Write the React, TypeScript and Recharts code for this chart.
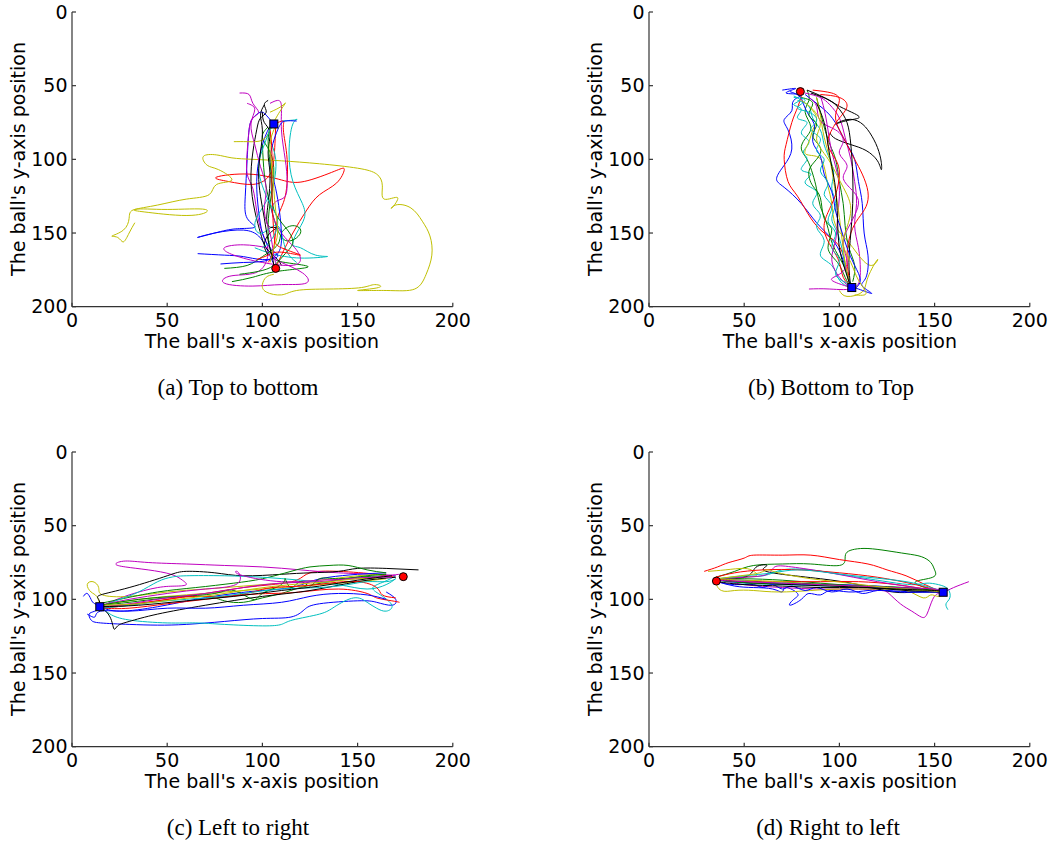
import React from 'react';
import { LineChart, Line, XAxis, YAxis } from 'recharts';

type Pt = [number, number];

const TICKS = [0, 50, 100, 150, 200];
// matplotlib classic colour cycle: b, g, r, c, m, y, k
const COLORS = ['#0000ff', '#008000', '#ff0000', '#00bfbf', '#bf00bf', '#bfbf00', '#000000'];

// (a) Top to bottom
const aBlue1: Pt[] = [[106, 76], [102, 70], [99, 68], [95, 72], [93, 80], [92, 100], [91, 125], [92, 140], [96, 146], [88, 147], [78, 149], [66, 153], [75, 150], [90, 148], [98, 152], [102, 160], [107, 174]];
const aGreen1: Pt[] = [[84, 183], [95, 180], [108, 176], [124, 173], [112, 170], [105, 165], [103, 150], [104, 130], [106, 110], [104, 95], [100, 85], [103, 78]];
const aRed1: Pt[] = [[107, 174], [110, 165], [116, 150], [123, 135], [130, 124], [139, 116], [143, 107], [138, 108], [122, 115], [110, 114], [93, 110], [76, 112], [82, 115], [95, 117], [103, 112], [106, 100], [107, 76]];
const aCyan1: Pt[] = [[110, 74], [118, 73], [116, 76], [114, 95], [116, 115], [121, 130], [122, 140], [118, 150], [116, 158], [120, 160], [128, 165], [134, 166], [120, 167], [105, 164], [96, 160]];
const aMagenta1: Pt[] = [[88, 55], [93, 56], [95, 62], [98, 68], [95, 72], [93, 80], [92, 95], [92, 110], [95, 120], [97, 135], [100, 150], [103, 162], [98, 176], [84, 179], [80, 184], [95, 186], [110, 185], [123, 184], [121, 177], [110, 170], [104, 166]];
const aYellow1: Pt[] = [[106, 178], [102, 180], [100, 185], [102, 190], [110, 192], [118, 189], [135, 188], [152, 187], [159, 185], [161, 187], [150, 189], [165, 189], [180, 188], [186, 178], [189, 165], [188, 152], [184, 142], [178, 133], [170, 131], [168, 133], [171, 126], [164, 127], [163, 118], [160, 110], [150, 106], [130, 103], [110, 101], [95, 100], [84, 99], [76, 97], [69, 98], [71, 104], [77, 107], [84, 114], [76, 117], [72, 124], [60, 127], [45, 131], [33, 134], [40, 136], [63, 138], [70, 134], [50, 134], [33, 134], [30, 140], [27, 148], [21, 152], [24, 153], [27, 156], [30, 150], [33, 143]];
const aBlack1: Pt[] = [[103, 60], [101, 63], [102, 68], [99, 72], [97, 80], [95, 95], [94, 115], [96, 135], [99, 150], [101, 158], [104, 163], [108, 168], [110, 172]];
const aBlue2: Pt[] = [[66, 164], [80, 165], [90, 166], [100, 168], [108, 166], [104, 160], [100, 150], [98, 135], [97, 115], [99, 95], [103, 80], [106, 76]];
const aGreen2: Pt[] = [[80, 174], [92, 172], [100, 166], [108, 158], [110, 150], [116, 145], [120, 150], [112, 155], [106, 140], [103, 125], [101, 110], [100, 90]];
const aRed2: Pt[] = [[103, 170], [106, 160], [108, 140], [112, 125], [113, 100], [111, 80], [111, 74], [106, 76]];
const aCyan2: Pt[] = [[103, 85], [107, 100], [105, 120], [99, 135], [96, 145], [100, 150], [108, 145], [112, 160], [118, 170]];
const aMagenta2: Pt[] = [[104, 62], [108, 60], [110, 64], [110, 80], [112, 100], [113, 115], [112, 125], [108, 128], [105, 135], [110, 150], [117, 160], [120, 168], [115, 172], [100, 170], [85, 165], [80, 160], [90, 158], [103, 160]];
const aYellow2: Pt[] = [[85, 88], [92, 88], [100, 87], [104, 80], [108, 70], [112, 62], [110, 64], [104, 68]];
const aBlack2: Pt[] = [[100, 68], [101, 75], [104, 82], [103, 95], [104, 110], [103, 130], [103, 145], [108, 146], [104, 150], [101, 158], [103, 165]];
const aBlue3: Pt[] = [[78, 171], [90, 170], [101, 169], [108, 164], [110, 150], [107, 120], [104, 100], [108, 80], [112, 74], [118, 74]];
const aGreen3: Pt[] = [[88, 178], [98, 176], [106, 172], [112, 164], [116, 156], [112, 146], [106, 134], [105, 118], [104, 102], [103, 88], [104, 78]];
const aRed3: Pt[] = [[97, 168], [103, 165], [110, 163], [120, 165], [110, 160], [106, 150], [105, 120], [105, 95], [104, 80]];
const aCyan3: Pt[] = [[100, 160], [105, 154], [108, 142], [104, 130], [100, 118], [98, 104], [101, 90], [104, 80], [107, 76]];
const aMagenta3: Pt[] = [[92, 62], [96, 66], [94, 76], [96, 90], [99, 105], [102, 120], [101, 135], [104, 150], [106, 165], [108, 174]];
const aYellow3: Pt[] = [[104, 170], [106, 160], [108, 150], [107, 135], [106, 120], [105, 105], [104, 90], [106, 80], [107, 76]];
const aBlack3: Pt[] = [[101, 63], [99, 70], [100, 80], [99, 95], [98, 110], [99, 125], [101, 140], [103, 155], [105, 165], [106, 172]];
const tracksA = [aBlue1, aGreen1, aRed1, aCyan1, aMagenta1, aYellow1, aBlack1, aBlue2, aGreen2, aRed2, aCyan2, aMagenta2, aYellow2, aBlack2,
    aBlue3, aGreen3, aRed3, aCyan3, aMagenta3, aYellow3, aBlack3];
const startA: Pt = [107, 174];
const endA: Pt = [106, 76];

// (b) Bottom to Top
const bBlue1: Pt[] = [[70, 53], [77, 52], [72, 55], [80, 56], [76, 60], [75, 67], [71, 73], [73, 80], [75, 93], [71, 104], [67, 113], [71, 119], [80, 130], [88, 143], [96, 154], [101, 165], [104, 177], [106, 187]];
const bGreen1: Pt[] = [[83, 53], [84, 60], [82, 68], [85, 78], [82, 86], [80, 93], [83, 100], [86, 110], [88, 120], [90, 132], [93, 142], [95, 152], [98, 162], [103, 174], [106, 186]];
const bRed1: Pt[] = [[80, 57], [78, 65], [75, 75], [72, 90], [71, 100], [73, 115], [78, 125], [85, 140], [92, 150], [98, 156], [102, 165], [104, 178], [106, 187]];
const bCyan1: Pt[] = [[76, 57], [79, 60], [76, 63], [80, 66], [78, 72], [83, 75], [80, 82], [84, 88], [81, 95], [83, 100], [80, 107], [85, 110], [82, 116], [88, 122], [86, 130], [90, 138], [88, 146], [92, 155], [90, 165], [96, 172], [100, 182], [106, 187]];
const bMagenta1: Pt[] = [[82, 55], [90, 58], [95, 63], [100, 72], [103, 85], [106, 100], [108, 115], [109, 130], [108, 145], [110, 160], [111, 175], [108, 187], [95, 188], [84, 188]];
const bYellow1: Pt[] = [[84, 64], [88, 72], [86, 80], [84, 88], [82, 96], [88, 98], [92, 105], [94, 118], [96, 130], [98, 145], [104, 155], [110, 165], [117, 172], [120, 168], [115, 180], [112, 190], [104, 193], [100, 189]];
const bBlack1: Pt[] = [[83, 53], [92, 58], [100, 64], [108, 69], [110, 72], [103, 74], [98, 76], [104, 73], [111, 75], [116, 82], [120, 92], [122, 102], [122, 107], [120, 101], [114, 94], [106, 90], [98, 86], [95, 82]];
const bBlue2: Pt[] = [[82, 56], [88, 62], [95, 70], [100, 80], [104, 90], [108, 100], [110, 115], [112, 130], [113, 150], [115, 165], [114, 180], [112, 186], [117, 191], [110, 188], [106, 187]];
const bGreen2: Pt[] = [[88, 58], [90, 68], [92, 78], [95, 90], [98, 100], [100, 115], [102, 130], [103, 145], [105, 160], [108, 172], [107, 183]];
const bRed2: Pt[] = [[86, 53], [96, 55], [100, 60], [98, 70], [100, 80], [104, 90], [108, 100], [112, 110], [115, 122], [114, 132], [110, 140], [106, 150], [104, 165], [105, 180]];
const bCyan2: Pt[] = [[78, 60], [84, 64], [86, 72], [90, 80], [92, 90], [95, 100], [97, 110], [96, 120], [98, 130], [96, 140], [99, 150], [102, 165], [104, 178], [108, 189]];
const bMagenta2: Pt[] = [[90, 57], [92, 66], [94, 80], [96, 95], [99, 110], [100, 125], [99, 140], [98, 155], [96, 168], [100, 180], [106, 187]];
const bYellow2: Pt[] = [[88, 58], [90, 70], [92, 85], [95, 100], [97, 115], [99, 130], [101, 150], [103, 170], [105, 182]];
const bBlack2: Pt[] = [[85, 55], [95, 60], [100, 66], [104, 75], [106, 90], [107, 110], [107, 130], [106, 150], [105, 170], [106, 187]];
const bBlue3: Pt[] = [[74, 54], [79, 57], [81, 62], [84, 70], [87, 78], [86, 88], [90, 98], [92, 110], [96, 122], [98, 135], [101, 148], [104, 160], [108, 172], [111, 182], [108, 188]];
const bGreen3: Pt[] = [[80, 58], [86, 62], [84, 70], [88, 76], [86, 84], [90, 92], [88, 100], [84, 108], [86, 118], [90, 126], [92, 140], [96, 148], [94, 160], [99, 170], [103, 180], [106, 187]];
const bRed3: Pt[] = [[90, 56], [100, 58], [104, 64], [100, 72], [96, 80], [94, 90], [98, 100], [100, 110], [98, 124], [94, 136], [92, 148], [96, 160], [100, 170], [102, 180], [106, 186]];
const bCyan3: Pt[] = [[76, 58], [82, 60], [78, 65], [84, 68], [88, 74], [85, 80], [90, 86], [88, 94], [92, 100], [90, 108], [94, 116], [92, 124], [96, 132], [94, 142], [98, 150], [96, 160], [100, 168], [98, 178], [104, 184], [108, 188]];
const bMagenta3: Pt[] = [[84, 58], [88, 64], [90, 74], [98, 80], [102, 88], [100, 96], [104, 104], [102, 112], [106, 120], [110, 128], [108, 138], [104, 148], [102, 158], [104, 170], [100, 178], [96, 182], [106, 187]];
const bYellow3: Pt[] = [[80, 60], [86, 66], [90, 76], [88, 86], [92, 96], [96, 104], [100, 114], [104, 124], [106, 134], [104, 146], [102, 158], [106, 170], [110, 182], [114, 191], [108, 192]];
const bBlack3: Pt[] = [[88, 62], [92, 75], [94, 90], [96, 105], [98, 120], [99, 140], [100, 160], [103, 175], [106, 187]];
const tracksB = [bBlue1, bGreen1, bRed1, bCyan1, bMagenta1, bYellow1, bBlack1, bBlue2, bGreen2, bRed2, bCyan2, bMagenta2, bYellow2, bBlack2,
    bBlue3, bGreen3, bRed3, bCyan3, bMagenta3, bYellow3, bBlack3];
const startB: Pt = [79.5, 54];
const endB: Pt = [106.5, 187];

// (c) Left to right
const cBlue1: Pt[] = [[6, 98], [8, 96], [10, 100], [12, 103], [15, 105], [12, 108], [9, 110], [10, 114], [15, 116], [30, 117], [45, 117.5], [60, 117], [80, 115], [100, 113], [115, 112], [122, 107], [130, 103], [150, 101], [160, 102], [168, 104], [170, 100], [165, 95]];
const cGreen1: Pt[] = [[15, 104], [30, 102], [50, 99], [70, 98], [80, 101], [90, 102], [100, 99], [110, 96], [120, 92], [135, 88], [150, 85], [165, 84]];
const cRed1: Pt[] = [[15, 105], [25, 104], [45, 101], [60, 98], [75, 95], [90, 92], [105, 90], [118, 87], [125, 82], [140, 81], [160, 83], [170, 85]];
const cCyan1: Pt[] = [[15, 105], [20, 110], [30, 114], [50, 116], [65, 116], [80, 117], [100, 118], [110, 117], [116, 114], [130, 110], [138, 105], [148, 99], [155, 102], [160, 106], [165, 108], [168, 104], [162, 97], [158, 92], [164, 88], [170, 84]];
const cMagenta1: Pt[] = [[170, 84], [160, 83], [140, 82], [120, 80], [100, 78], [80, 77], [60, 76], [40, 75], [28, 74], [23, 76], [28, 78], [40, 80], [52, 83], [58, 87], [60, 90], [55, 91], [45, 92], [30, 97], [20, 102], [15, 105]];
const cYellow1: Pt[] = [[15, 105], [13, 98], [10, 95], [8, 90], [11, 88], [14, 92], [16, 97], [30, 98], [50, 95], [70, 93], [90, 91], [110, 89], [130, 87], [150, 84], [165, 83]];
const cBlack1: Pt[] = [[15, 105], [14, 100], [15, 97], [30, 92], [50, 84], [60, 81], [75, 82], [90, 84], [110, 83], [125, 82], [140, 81], [150, 79], [165, 79], [182, 80]];
const cBlue2: Pt[] = [[15, 105], [25, 108], [45, 105], [65, 100], [85, 96], [100, 94], [115, 92], [125, 88], [135, 85], [150, 83], [165, 82]];
const cGreen2: Pt[] = [[14, 103], [25, 100], [45, 95], [65, 92], [85, 89], [100, 86], [115, 81], [125, 78], [135, 77], [145, 77], [155, 80], [165, 82]];
const cRed2: Pt[] = [[16, 106], [30, 106], [50, 103], [70, 100], [90, 97], [105, 96], [120, 95], [140, 93], [155, 96], [160, 99], [168, 101], [172, 102]];
const cCyan2: Pt[] = [[17, 104], [25, 100], [35, 95], [45, 88], [52, 85], [60, 84], [80, 84], [100, 85], [120, 87], [140, 90], [155, 93], [165, 90], [170, 86]];
const cMagenta2: Pt[] = [[15, 104], [30, 100], [50, 96], [70, 93], [86, 90], [88, 83], [86, 81], [90, 84], [110, 88], [130, 87], [150, 86], [165, 84], [172, 83]];
const cYellow2: Pt[] = [[16, 104], [30, 101], [50, 98], [70, 96], [90, 94], [110, 92], [130, 90], [150, 88], [165, 86]];
const cBlack2: Pt[] = [[15, 105], [20, 112], [22, 120], [24, 118], [30, 115], [45, 110], [70, 104], [100, 98], [125, 94], [150, 88], [170, 85]];
const cBlue3: Pt[] = [[8, 110], [12, 112], [15, 108], [30, 108], [50, 106], [70, 106], [90, 104], [110, 102], [125, 98], [140, 96], [155, 97], [165, 100]];
const cGreen3: Pt[] = [[15, 104], [35, 100], [55, 98], [75, 96], [85, 94], [95, 100], [100, 96], [110, 90], [112, 86], [115, 92], [120, 88], [125, 91], [130, 86], [140, 86], [155, 84], [165, 83]];
const cRed3: Pt[] = [[15, 106], [30, 104], [50, 100], [65, 98], [80, 98], [95, 95], [105, 92], [120, 91], [135, 89], [150, 88], [160, 92], [163, 97], [170, 99]];
const cCyan3: Pt[] = [[16, 106], [30, 104], [50, 101], [70, 99], [90, 96], [110, 93], [130, 92], [145, 90], [155, 88], [165, 88], [170, 86]];
const cMagenta3: Pt[] = [[15, 105], [30, 103], [50, 99], [70, 96], [90, 92], [110, 89], [130, 88], [145, 86], [158, 85], [168, 85]];
const cYellow3: Pt[] = [[15, 104], [35, 103], [55, 100], [75, 97], [95, 93], [115, 90], [135, 88], [150, 86], [160, 86]];
const cBlack3: Pt[] = [[15, 105], [35, 104], [60, 101], [85, 98], [110, 94], [130, 91], [150, 87], [168, 84]];
const tracksC = [cBlue1, cGreen1, cRed1, cCyan1, cMagenta1, cYellow1, cBlack1, cBlue2, cGreen2, cRed2, cCyan2, cMagenta2, cYellow2, cBlack2,
    cBlue3, cGreen3, cRed3, cCyan3, cMagenta3, cYellow3, cBlack3];
const startC: Pt = [174, 84.6];
const endC: Pt = [14.6, 105];

// (d) Right to left
const dBlue1: Pt[] = [[36, 88], [45, 91], [55, 92], [65, 93], [70, 95], [72, 92], [78, 96], [76, 100], [74, 104], [80, 100], [84, 96], [90, 97], [95, 94], [105, 95], [115, 94], [125, 94], [140, 95], [154, 95]];
const dGreen1: Pt[] = [[35, 85], [45, 81], [55, 77], [70, 76], [85, 76], [100, 77], [103, 72], [104, 68], [108, 66], [115, 65.5], [125, 67], [135, 69], [143, 71], [148, 75], [150, 80], [149, 85], [140, 88], [145, 92], [154, 95]];
const dRed1: Pt[] = [[29, 81], [36, 78], [42, 75], [50, 72], [55, 70], [70, 70], [85, 70], [100, 73], [115, 76], [125, 80], [135, 84], [145, 90], [154, 95]];
const dCyan1: Pt[] = [[36, 87], [45, 85], [60, 84], [70, 80], [85, 80], [100, 83], [115, 86], [130, 89], [140, 90], [146, 89], [152, 90], [157, 93], [158, 99], [156, 103], [157, 107]];
const dMagenta1: Pt[] = [[35, 86], [50, 90], [70, 92], [90, 93], [110, 93], [122, 94], [126, 96], [132, 103], [138, 108], [143, 112], [146, 110], [149, 100], [152, 96], [155, 95], [160, 92], [168, 88]];
const dYellow1: Pt[] = [[31, 81], [40, 80], [50, 79], [55, 81], [56, 84], [45, 85], [36, 88], [38, 94], [45, 94], [55, 94], [68, 95], [85, 94], [100, 93], [120, 93], [135, 94], [144, 99], [148, 97], [152, 98], [155, 95]];
const dBlack1: Pt[] = [[36, 87], [45, 86], [52, 84], [55, 80], [58, 77], [62, 77], [60, 80], [70, 83], [90, 86], [110, 90], [128, 95], [140, 95], [154, 95]];
const dBlue2: Pt[] = [[38, 87], [50, 87], [65, 89], [80, 90], [100, 90], [120, 91], [140, 93], [155, 95]];
const dGreen2: Pt[] = [[35, 86], [50, 86], [70, 87], [90, 89], [110, 91], [130, 93], [145, 94], [154, 95]];
const dRed2: Pt[] = [[35, 86], [50, 88], [70, 88], [90, 88], [110, 88], [130, 90], [145, 93], [155, 95]];
const dCyan2: Pt[] = [[36, 87], [50, 89], [70, 90], [95, 91], [120, 92], [140, 93], [150, 94], [155, 97]];
const dMagenta2: Pt[] = [[36, 86], [50, 85], [62, 83], [66, 78], [75, 78], [95, 82], [120, 88], [140, 92], [154, 95]];
const dYellow2: Pt[] = [[36, 86], [50, 87], [70, 88], [90, 90], [110, 91], [130, 92], [150, 94], [155, 95]];
const dBlack2: Pt[] = [[36, 87], [55, 89], [75, 90], [95, 91], [115, 92], [135, 94], [154, 95]];
const dBlue3: Pt[] = [[36, 88], [45, 90], [55, 90], [60, 92], [65, 90], [70, 93], [75, 91], [82, 94], [88, 92], [96, 95], [104, 93], [112, 96], [120, 94], [132, 95], [144, 95], [154, 95]];
const dGreen3: Pt[] = [[35, 87], [45, 88], [55, 89], [75, 89], [95, 90], [115, 91], [135, 92], [150, 94], [155, 95]];
const dRed3: Pt[] = [[35, 85], [45, 82], [60, 80], [80, 80], [100, 82], [120, 85], [140, 90], [154, 95]];
const dCyan3: Pt[] = [[36, 86], [50, 84], [65, 82], [78, 80], [95, 82], [115, 85], [135, 88], [148, 92], [155, 95]];
const dMagenta3: Pt[] = [[36, 87], [50, 88], [70, 89], [90, 90], [110, 91], [130, 92], [150, 93], [155, 95]];
const dYellow3: Pt[] = [[36, 86], [48, 84], [58, 82], [62, 80], [68, 82], [85, 86], [105, 89], [125, 92], [145, 94], [154, 95]];
const dBlack3: Pt[] = [[36, 88], [50, 90], [70, 91], [90, 92], [110, 92], [130, 93], [150, 94], [154, 95]];
const tracksD = [dBlue1, dGreen1, dRed1, dCyan1, dMagenta1, dYellow1, dBlack1, dBlue2, dGreen2, dRed2, dCyan2, dMagenta2, dYellow2, dBlack2,
    dBlue3, dGreen3, dRed3, dCyan3, dMagenta3, dYellow3, dBlack3];
const startD: Pt = [35.4, 87.6];
const endD: Pt = [154.5, 95.2];

const toRows = (pts: Pt[]) => pts.map(([x, y]) => ({ x, y }));

const tickStyle = { fill: '#000', fontSize: 19, fontFamily: 'DejaVu Sans' };
const AXIS = '#333';

const SquareDot = (props: any) => {
    const { cx, cy } = props;
    if (cx == null || cy == null) return null;
    return <rect x={cx - 4} y={cy - 4} width={8} height={8} fill="#0000ff" stroke="#000" strokeWidth={1} />;
};

interface PanelProps {
    tracks: Pt[][];
    start: Pt;
    end: Pt;
    left: number;
    top: number;
    caption: string;
    captionX: number;
}

// plot area: 380.8 x 294.7, starts 70px right of the chart's left edge
function Panel({ tracks, start, end, left, top, caption, captionX }: PanelProps) {
    const plotLeft = left + 70;
    const plotCenterX = plotLeft + 380.8 / 2;
    return (
        <>
            <div style={{ position: 'absolute', left, top }}>
                <LineChart width={470} height={360} margin={{ top: 12, right: 19.2, bottom: 13.3, left: 0 }}>
                    <XAxis xAxisId="b" type="number" dataKey="x" domain={[0, 200]} ticks={TICKS} allowDataOverflow
                        height={40} stroke={AXIS} strokeWidth={1.2} tickSize={-4} tickMargin={10.8} tick={tickStyle} />
                    <XAxis xAxisId="t" orientation="top" type="number" dataKey="x" domain={[0, 200]} ticks={TICKS} allowDataOverflow
                        height={0} stroke={AXIS} strokeWidth={1.2} tickSize={-4} tick={false} />
                    <YAxis yAxisId="l" type="number" dataKey="y" domain={[0, 200]} ticks={TICKS} reversed allowDataOverflow
                        width={70} stroke={AXIS} strokeWidth={1.2} tickSize={-4} tickMargin={8.5} tick={tickStyle} />
                    <YAxis yAxisId="r" orientation="right" type="number" dataKey="y" domain={[0, 200]} ticks={TICKS} reversed allowDataOverflow
                        width={0} stroke={AXIS} strokeWidth={1.2} tickSize={-4} tick={false} />
                    {tracks.map((t, i) => (
                        <Line key={i} xAxisId="b" yAxisId="l" data={toRows(t)} dataKey="y" type="natural"
                            stroke={COLORS[i % COLORS.length]} strokeWidth={1} dot={false} isAnimationActive={false} />
                    ))}
                    <Line xAxisId="t" yAxisId="r" data={toRows([start])} dataKey="y" stroke="none" isAnimationActive={false}
                        dot={{ r: 4, fill: '#ff0000', stroke: '#000', strokeWidth: 1 }} />
                    <Line xAxisId="b" yAxisId="l" data={toRows([end])} dataKey="y" stroke="none" isAnimationActive={false}
                        dot={<SquareDot />} />
                </LineChart>
            </div>
            <div style={{
                position: 'absolute', left: plotCenterX - 200, top: top + 329.5, width: 400, height: 22,
                lineHeight: '22px', textAlign: 'center', fontSize: 19, fontFamily: 'DejaVu Sans', color: '#000'
            }}>
                The ball's x-axis position
            </div>
            <div style={{
                position: 'absolute', left: left + 16 - 150, top: top + 159.4 - 11, width: 300, height: 22,
                lineHeight: '22px', textAlign: 'center', fontSize: 19, fontFamily: 'DejaVu Sans', color: '#000',
                transform: 'rotate(-90deg)'
            }}>
                The ball's y-axis position
            </div>
            <div style={{
                position: 'absolute', left: captionX - 200, top: top + 375.3, width: 400, height: 26,
                lineHeight: '26px', textAlign: 'center', fontSize: 23, fontFamily: 'Liberation Serif', color: '#000'
            }}>
                {caption}
            </div>
        </>
    );
}

export default function App() {
    return (
        <div style={{ position: 'absolute', left: 0, top: 0, width: 1061, height: 846, background: '#fff' }}>
            <Panel tracks={tracksA} start={startA} end={endA} left={1.5} top={0} caption="(a) Top to bottom" captionX={238} />
            <Panel tracks={tracksB} start={startB} end={endB} left={579.4} top={0} caption="(b) Bottom to Top" captionX={831} />
            <Panel tracks={tracksC} start={startC} end={endC} left={1.5} top={440} caption="(c) Left to right" captionX={238} />
            <Panel tracks={tracksD} start={startD} end={endD} left={579.4} top={440} caption="(d) Right to left" captionX={828} />
        </div>
    );
}
